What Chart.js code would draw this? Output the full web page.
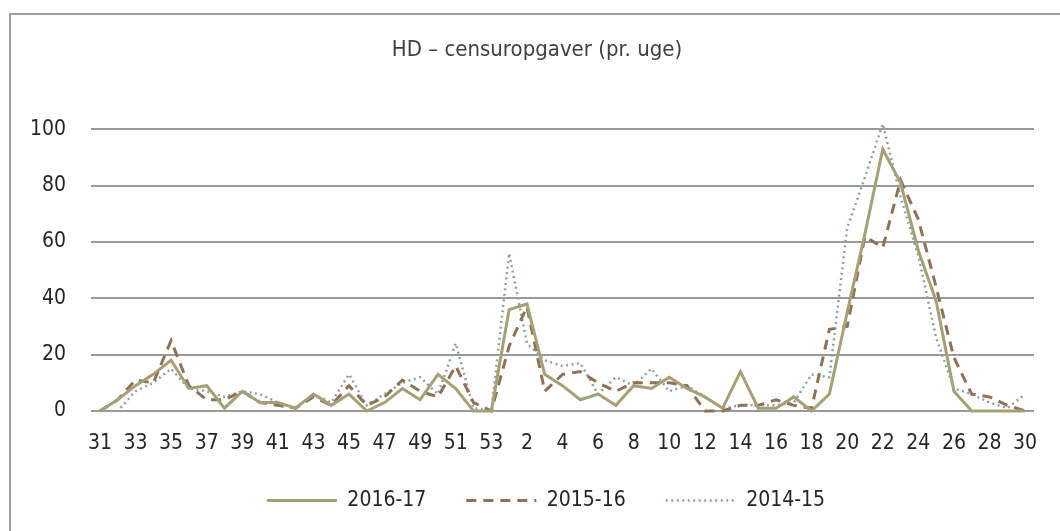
<!DOCTYPE html>
<html>
<head>
<meta charset="utf-8">
<script src="https://cdn.jsdelivr.net/npm/chart.js@4.4.1/dist/chart.umd.min.js"></script>
<style>
  html, body { margin: 0; padding: 0; background: #fff; overflow: hidden; }
  #wrap { position: relative; width: 1060px; height: 531px; }
  #frame {
    position: absolute; left: 9px; top: 13px; width: 1100px; height: 600px;
    border-left: 2px solid #a0a0a0; border-top: 2px solid #a0a0a0;
  }
  #hdChart { position: absolute; left: 0; top: 0; }
</style>
</head>
<body>
<div id="wrap">
  <div id="frame"></div>
  <canvas id="hdChart" width="1060" height="531"></canvas>
</div>
<script>
// weeks 31..53, then 1..30
var weeks = ['31','32','33','34','35','36','37','38','39','40','41','42','43','44','45','46','47','48','49','50','51','52','53',
             '1','2','3','4','5','6','7','8','9','10','11','12','13','14','15','16','17','18','19','20','21','22','23','24','25','26','27','28','29','30'];

var yTicks = [0, 20, 40, 60, 80, 100];

var data2016 = [0, 4, 9, 13, 18, 8, 9, 1, 7, 3, 3, 1, 6, 2, 6, 0, 3, 8, 4, 13, 8, 0, 0,
                36, 38, 13, 9, 4, 6, 2, 9, 8, 12, 8, 5, 1, 14, 1, 1, 5, 0, 6, 35, 63, 93, 81, 57, 39, 7, 0, 0, 0, 0];

var data2015 = [0, 4, 11, 10, 25, 9, 4, 4, 7, 3, 2, 1, 5, 2, 9, 2, 5, 11, 7, 5, 16, 3, 0,
                23, 37, 7, 13, 14, 10, 7, 10, 10, 10, 9, 0, 0, 2, 2, 4, 2, 1, 29, 30, 62, 58, 82, 68, 44, 19, 6, 5, 2, 0];

var data2014 = [0, 0, 7, 10, 15, 8, 7, 5, 7, 6, 3, 1, 6, 3, 13, 2, 6, 10, 12, 6, 24, 1, 0,
                56, 24, 18, 16, 17, 6, 12, 9, 15, 7, 9, 5, 1, 2, 2, 2, 3, 13, 12, 65, 83, 102, 76, 55, 26, 8, 6, 3, 1, 6];

var fontFamily = "'Liberation Sans Narrow', 'DejaVu Sans Condensed', 'Roboto', sans-serif";

// nudge title and legend to the right, the y axis takes the room on the left
var shiftBoxes = {
    id: 'shiftBoxes',
    afterLayout: function (chart) {
        chart.titleBlock.left += 30;
        chart.legend.left += 48;
    }
};

var ctx = document.getElementById('hdChart').getContext('2d');

new Chart(ctx, {
    type: 'line',
    data: {
        labels: weeks,
        datasets: [{
            label: '2016-17',
            data: data2016,
            borderColor: '#a6a077',
            backgroundColor: '#a6a077',
            borderWidth: 3,
            pointRadius: 0,
            tension: 0,
            clip: false
        }, {
            label: '2015-16',
            data: data2015,
            borderColor: '#8e7256',
            backgroundColor: '#8e7256',
            borderWidth: 3,
            borderDash: [10, 7],
            pointRadius: 0,
            tension: 0,
            clip: false
        }, {
            label: '2014-15',
            data: data2014,
            borderColor: '#8ea2a2',
            backgroundColor: '#8ea2a2',
            borderWidth: 2.5,
            borderDash: [2, 3.5],
            pointRadius: 0,
            tension: 0,
            clip: false
        }]
    },
    plugins: [shiftBoxes],
    options: {
        responsive: false,
        animation: false,
        layout: {
            padding: { left: 10, right: 26, top: 0, bottom: 10 }
        },
        plugins: {
            title: {
                display: true,
                text: 'HD – censuropgaver (pr. uge)',
                color: '#404040',
                font: { family: fontFamily, size: 22, weight: 'normal' },
                padding: { top: 37, bottom: 66 }
            },
            legend: {
                position: 'bottom',
                labels: {
                    usePointStyle: true,
                    pointStyleWidth: 70,
                    boxHeight: 20,
                    padding: 40,
                    color: '#262626',
                    font: { family: fontFamily, size: 21 },
                    generateLabels: function (chart) {
                        var items = Chart.defaults.plugins.legend.labels.generateLabels(chart);
                        items.forEach(function (item) {
                            var ds = chart.data.datasets[item.datasetIndex];
                            item.pointStyle = 'line';
                            item.strokeStyle = ds.borderColor;
                            item.lineWidth = ds.borderWidth;
                            item.lineDash = ds.borderDash || [];
                        });
                        return items;
                    }
                }
            },
            tooltip: { enabled: false }
        },
        scales: {
            x: {
                offset: true,
                grid: { display: false },
                border: { display: false },
                afterFit: function (scale) { scale.height = 39; },
                ticks: {
                    autoSkip: false,
                    maxRotation: 0,
                    padding: 12,
                    color: '#262626',
                    font: { family: fontFamily, size: 21 },
                    callback: function (value, index) {
                        return index % 2 === 0 ? this.getLabelForValue(value) : '';
                    }
                }
            },
            y: {
                min: yTicks[0],
                max: yTicks[yTicks.length - 1],
                afterFit: function (scale) { scale.width = 81; },
                afterBuildTicks: function (scale) {
                    scale.ticks = yTicks.map(function (v) { return { value: v }; });
                },
                grid: { color: '#9a9a9a', lineWidth: 2, drawTicks: false },
                border: { display: false },
                ticks: {
                    padding: 25,
                    color: '#262626',
                    font: { family: fontFamily, size: 21 }
                }
            }
        }
    }
});
</script>
</body>
</html>
